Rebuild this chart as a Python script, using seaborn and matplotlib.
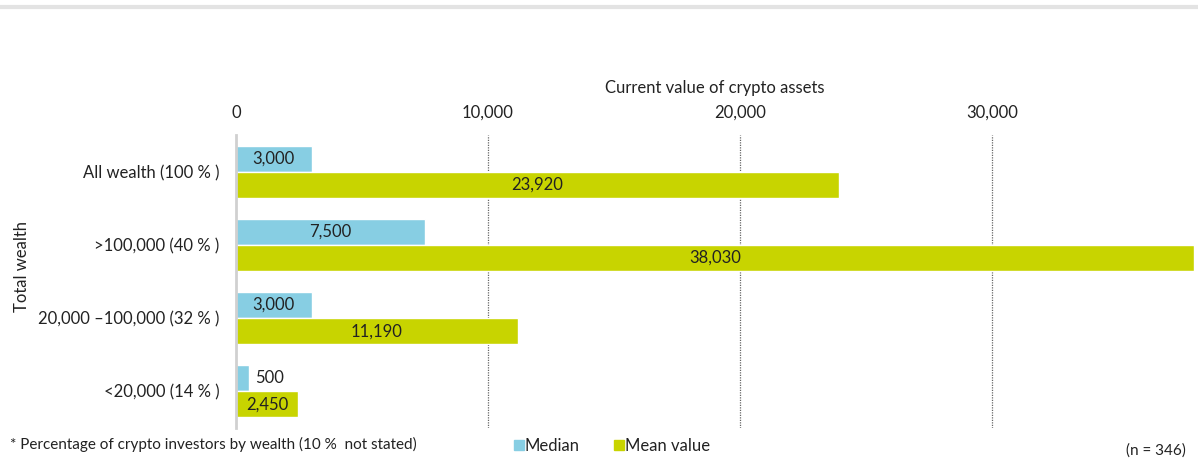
import pandas as pd
import matplotlib.pyplot as plt
import seaborn as sns
from matplotlib.lines import Line2D

# data
groups = ["All wealth (100 % )", ">100,000 (40 % )", "20,000 \u2013100,000 (32 % )", "<20,000 (14 % )"]
median_values = [3000, 7500, 3000, 500]
mean_values = [23920, 38030, 11190, 2450]
series_names = ["Median", "Mean value"]
colors = ["#87CEE3", "#C8D400"]

df = pd.DataFrame({
    "group": groups * 2,
    "value": median_values + mean_values,
    "series": [series_names[0]] * 4 + [series_names[1]] * 4,
})

sns.set_style("white")
plt.rcParams["font.family"] = ["Lato", "DejaVu Sans"]
plt.rcParams["text.color"] = "#222222"

fig = plt.figure(figsize=(11.98, 4.66), dpi=100)
ax = fig.add_axes([236 / 1198, 38 / 466, (1194 - 236) / 1198, 293 / 466])

sns.barplot(data=df, y="group", x="value", hue="series", palette=colors,
            orient="h", width=0.71, ax=ax, legend=False, saturation=1)

ax.set_xlim(0, 38030)
ax.set_ylim(3.5, -0.5)
ax.xaxis.tick_top()
ax.xaxis.set_label_position("top")
ax.set_xticks([0, 10000, 20000, 30000])
ax.set_xticklabels(["0", "10,000", "20,000", "30,000"], fontsize=12)
ax.tick_params(axis="x", length=0, pad=10, labelcolor="#222222")
ax.tick_params(axis="y", length=0, pad=12, labelsize=12, labelcolor="#222222")
ax.set_xlabel("Current value of crypto assets", fontsize=12, labelpad=9, color="#222222")
ax.set_ylabel("Total wealth", fontsize=12, color="#222222")
ax.yaxis.set_label_coords(-0.215, 0.55)

for s in ["top", "right", "bottom"]:
    ax.spines[s].set_visible(False)
ax.spines["left"].set_color("#d0d0d0")
ax.spines["left"].set_linewidth(2)

for x in [10000, 20000, 30000]:
    ax.axvline(x, color="#666666", linestyle=(0, (1, 1)), linewidth=0.9, zorder=0)

# value labels
for cont in ax.containers:
    for bar in cont:
        w = bar.get_width()
        yc = bar.get_y() + bar.get_height() / 2
        txt = f"{w:,.0f}"
        if w < 1500:
            ax.text(w + 250, yc, txt, va="center", ha="left", fontsize=12)
        else:
            ax.text(w / 2, yc, txt, va="center", ha="center", fontsize=12)

# top separator line
fig.add_artist(Line2D([0, 1], [1 - 7 / 466, 1 - 7 / 466], color="#e3e3e3", linewidth=3))

# legend
handles = [Line2D([], [], marker="s", linestyle="", color=c, markersize=7) for c in colors]
fig.legend(handles, series_names, loc="center left", bbox_to_anchor=(498 / 1198, 1 - 446 / 466),
           ncol=2, frameon=False, fontsize=12, handletextpad=0.0, columnspacing=2.0,
           handlelength=0.7)

fig.text(10 / 1198, 1 - 444 / 466, "* Percentage of crypto investors by wealth (10 %  not stated)",
         fontsize=11, va="center", ha="left")
fig.text(1186 / 1198, 1 - 451 / 466, "(n = 346)", fontsize=11, va="center", ha="right")

fig.savefig("out.png", dpi=100)
